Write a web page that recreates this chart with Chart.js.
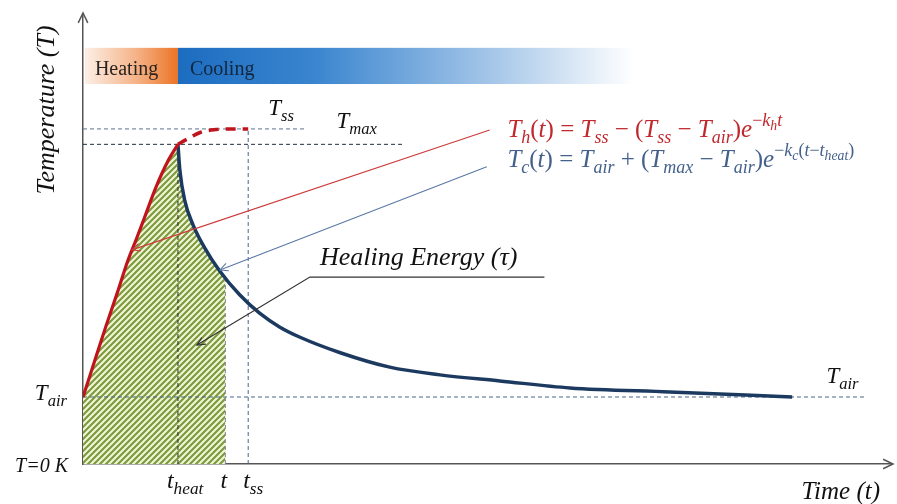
<!DOCTYPE html>
<html>
<head>
<meta charset="utf-8">
<title>Healing energy sketch</title>
<script src="https://cdn.jsdelivr.net/npm/chart.js@4.4.0/dist/chart.umd.min.js"></script>
<style>
  html, body { margin: 0; padding: 0; background: #fff; }
  #chart { display: block; }
</style>
</head>
<body>
<canvas id="chart" width="897" height="504"></canvas>
<script>
// values (arbitrary time / temperature units)
const T_AIR = 20, T_MAX = 95.4, T_SS = 100;
const tHeat = 10, tNow = 15, tSS = 17.4;
const hatchTop = 55.5; // temperature where the shaded area stops at t

// heating curve, up to t_heat
const heatTime = [0, 1.2, 2.4, 3.6, 4.7, 5.6, 6.5, 7.7, 9.0, 10];
const heatTemp = [20, 30.5, 41, 51, 60.5, 67, 73.7, 82.7, 90.7, 95.4];

// heating curve if it kept going (dashed), t_heat -> t_ss
const extTime = [10, 11, 12.4, 14, 15.5, 17.4];
const extTemp = [95.4, 97, 99, 99.8, 100, 100];

// cooling curve after t_heat
const coolTime = [10, 10.2, 10.7, 11.6, 12.8, 14.4, 16.5, 18.6, 20.7, 22.8, 27.1, 32.3, 37.6, 43.9, 51.3, 61.8, 74.7];
const coolTemp = [95.4, 87.8, 78.8, 71.3, 64.6, 57.6, 50.5, 45.0, 40.9, 37.9, 33.2, 28.9, 26.6, 24.8, 22.7, 21.5, 20.0];

// dashed guide lines: horizontal levels and how far they reach
const hLevels = [T_SS, T_MAX, T_AIR];
const hEnds = [23.4, 33.9, 82.5];
// vertical guides: time and the height they reach
const vTimes = [tHeat, tNow, tSS];
const vTops = [T_MAX, hatchTop, T_SS];

const pts = (xs, ys) => xs.map((x, i) => ({ x: x, y: ys[i] }));

// shaded area = heating curve + cooling curve until t
const hatchData = pts(heatTime, heatTemp)
  .concat(pts(coolTime, coolTemp).filter(p => p.x > tHeat && p.x < tNow))
  .concat([{ x: tNow, y: hatchTop }]);

function hatchPattern() {
  const c = document.createElement('canvas');
  c.width = c.height = 6;
  const g = c.getContext('2d');
  g.fillStyle = '#f1f5d6';
  g.fillRect(0, 0, 6, 6);
  g.strokeStyle = '#7b9a3d';
  g.lineWidth = 2.1;
  g.beginPath();
  for (const o of [-6, 0, 6]) { g.moveTo(o - 1, 7); g.lineTo(o + 7, -1); }
  g.stroke();
  return g.createPattern(c, 'repeat');
}

const SERIF = '"Liberation Serif", "Times New Roman", serif';

// text pieces: [text, level, upright]; level 0 base, 1 sub, 2 sup, 3 sub of sup
function drawRich(ctx, x, y, parts, size, color, align) {
  const sizes = [1, 0.72, 0.72, 0.55];
  const shifts = [0, 0.26, -0.42, -0.26];
  const fontFor = p => (p[2] ? '' : 'italic ') + (size * sizes[p[1]]).toFixed(1) + 'px ' + SERIF;
  let w = 0;
  parts.forEach(p => { ctx.font = fontFor(p); w += ctx.measureText(p[0]).width; });
  let cx = align === 'right' ? x - w : (align === 'center' ? x - w / 2 : x);
  ctx.fillStyle = color;
  ctx.textAlign = 'left';
  ctx.textBaseline = 'alphabetic';
  parts.forEach(p => {
    ctx.font = fontFor(p);
    ctx.fillText(p[0], cx, y + shifts[p[1]] * size);
    cx += ctx.measureText(p[0]).width;
  });
}

const redEq = [['T',0],['h',1],['(',0,1],['t',0],[')',0,1],[' = ',0,1],['T',0],['ss',1],[' − (',0,1],['T',0],['ss',1],
  [' − ',0,1],['T',0],['air',1],[')',0,1],['e',0],['−',2,1],['k',2],['h',3],['t',2]];
const blueEq = [['T',0],['c',1],['(',0,1],['t',0],[')',0,1],[' = ',0,1],['T',0],['air',1],[' + (',0,1],['T',0],['max',1],
  [' − ',0,1],['T',0],['air',1],[')',0,1],['e',0],['−',2,1],['k',2],['c',3],['(',2,1],['t',2],['−',2,1],['t',2],['heat',3],[')',2,1]];

// notes placed in data coordinates
const notes = [
  { x: 19.5, y: 104.2, size: 23, color: '#111', parts: [['T',0],['ss',1]] },
  { x: 26.7, y: 100.3, size: 23, color: '#111', parts: [['T',0],['max',1]] },
  { x: 78.3, y: 24.2, size: 23, color: '#111', parts: [['T',0],['air',1]] },
  { x: 24.95, y: 59.4, size: 26, color: '#111', parts: [['Healing Energy (τ)',0]] },
  { x: 44.7, y: 97.6, size: 25, color: '#c0282d', parts: redEq },
  { x: 44.7, y: 88.7, size: 25, color: '#44618c', parts: blueEq }
];

// leader lines, last point gets the arrow head
const leaders = [
  { color: '#cc3b3b', width: 1.1, pts: [[42.84, 99.7], [5.16, 63.9]] },
  { color: '#5a78a6', width: 1.1, pts: [[42.53, 88.7], [14.42, 57.9]] },
  { color: '#333333', width: 1.2, pts: [[48.6, 55.8], [23.9, 55.8], [12.0, 35.5]] }
];

function arrowHead(ctx, x0, y0, x1, y1, len) {
  const a = Math.atan2(y1 - y0, x1 - x0);
  ctx.beginPath();
  ctx.moveTo(x1 - len * Math.cos(a - 0.45), y1 - len * Math.sin(a - 0.45));
  ctx.lineTo(x1, y1);
  ctx.lineTo(x1 - len * Math.cos(a + 0.45), y1 - len * Math.sin(a + 0.45));
  ctx.stroke();
}

const sketchPlugin = {
  id: 'sketch',
  beforeDatasetsDraw(chart) {
    const ctx = chart.ctx, xs = chart.scales.x, ys = chart.scales.y;
    const y0 = ys.getPixelForValue(124.2), y1 = ys.getPixelForValue(113.4);
    const a = xs.getPixelForValue(0.2), b = xs.getPixelForValue(tHeat), c = xs.getPixelForValue(58);
    ctx.save();
    let g = ctx.createLinearGradient(a, 0, b, 0);
    g.addColorStop(0, '#fcefe6');
    g.addColorStop(0.55, '#f5b388');
    g.addColorStop(1, '#ec7425');
    ctx.fillStyle = g;
    ctx.fillRect(a, y0, b - a, y1 - y0);
    g = ctx.createLinearGradient(b, 0, c, 0);
    g.addColorStop(0, '#1c6cc0');
    g.addColorStop(0.3, '#3a85cf');
    g.addColorStop(0.7, '#a8c8e9');
    g.addColorStop(1, '#ffffff');
    ctx.fillStyle = g;
    ctx.fillRect(b, y0, c - b, y1 - y0);
    ctx.font = '20px ' + SERIF;
    ctx.textBaseline = 'alphabetic';
    ctx.fillStyle = '#2a2320';
    ctx.fillText('Heating', a + 10, y0 + 27);
    ctx.fillStyle = '#13253c';
    ctx.fillText('Cooling', b + 12, y0 + 27);
    ctx.restore();
  },
  afterDatasetsDraw(chart) {
    const ctx = chart.ctx, xs = chart.scales.x, ys = chart.scales.y, area = chart.chartArea;
    const px = v => xs.getPixelForValue(v), py = v => ys.getPixelForValue(v);
    ctx.save();
    // axis arrows
    ctx.strokeStyle = '#555';
    ctx.lineWidth = 1.5;
    ctx.beginPath();
    ctx.moveTo(area.left, area.top); ctx.lineTo(area.left, area.top - 2);
    ctx.moveTo(area.right, area.bottom); ctx.lineTo(area.right + 3, area.bottom);
    ctx.stroke();
    arrowHead(ctx, area.left, area.top + 20, area.left, area.top - 2, 11);
    arrowHead(ctx, area.right - 20, area.bottom, area.right + 3, area.bottom, 11);

    leaders.forEach(l => {
      ctx.strokeStyle = l.color;
      ctx.lineWidth = l.width;
      ctx.beginPath();
      l.pts.forEach((p, i) => i ? ctx.lineTo(px(p[0]), py(p[1])) : ctx.moveTo(px(p[0]), py(p[1])));
      ctx.stroke();
      const n = l.pts.length;
      arrowHead(ctx, px(l.pts[n - 2][0]), py(l.pts[n - 2][1]), px(l.pts[n - 1][0]), py(l.pts[n - 1][1]), 9);
    });

    notes.forEach(n => drawRich(ctx, px(n.x), py(n.y), n.parts, n.size, n.color, 'left'));

    // tick-like labels outside the plot
    drawRich(ctx, area.left - 16, py(T_AIR) + 3, [['T',0],['air',1]], 23, '#111', 'right');
    drawRich(ctx, area.left - 15, py(0) + 8, [['T=0 K',0]], 20, '#111', 'right');
    drawRich(ctx, px(tHeat) - 11, area.bottom + 24, [['t',0],['heat',1]], 24, '#111', 'left');
    drawRich(ctx, px(tNow) - 5, area.bottom + 24, [['t',0]], 24, '#111', 'left');
    drawRich(ctx, px(tSS) - 5, area.bottom + 24, [['t',0],['ss',1]], 24, '#111', 'left');
    drawRich(ctx, area.right - 10, area.bottom + 35, [['Time (t)',0]], 25, '#111', 'right');

    ctx.translate(area.left - 29, 110);
    ctx.rotate(-Math.PI / 2);
    drawRich(ctx, 0, 0, [['Temperature (T)',0]], 26, '#111', 'center');
    ctx.restore();
  }
};

const guideSets = [];
const hColors = ['#5a7391', '#1f2f45', '#4a6688'];
hLevels.forEach((v, i) => guideSets.push({
  label: 'level ' + i, data: [{ x: 0, y: v }, { x: hEnds[i], y: v }],
  borderColor: hColors[i], borderWidth: 1, borderDash: [4, 3]
}));
const vColors = ['#2b2b2b', '#8a8aa0', '#4a6688'];
vTimes.forEach((t, i) => guideSets.push({
  label: 'time ' + i, data: [{ x: t, y: 0 }, { x: t, y: vTops[i] }],
  borderColor: vColors[i], borderWidth: 1, borderDash: [4, 3]
}));

const ctx = document.getElementById('chart').getContext('2d');
new Chart(ctx, {
  type: 'scatter',
  data: {
    datasets: [
      { label: 'Heating', data: pts(heatTime, heatTemp), borderColor: '#c0141c', borderWidth: 3.2, cubicInterpolationMode: 'monotone' },
      { label: 'Heating (continued)', data: pts(extTime, extTemp), borderColor: '#c0141c', borderWidth: 3.5, borderDash: [10, 7], cubicInterpolationMode: 'monotone' },
      { label: 'Cooling', data: pts(coolTime, coolTemp), borderColor: '#1c3a60', borderWidth: 3.5, cubicInterpolationMode: 'monotone' }
    ].concat(guideSets).concat([
      { label: 'Healing energy', data: hatchData, fill: 'origin', backgroundColor: hatchPattern(), borderWidth: 0, cubicInterpolationMode: 'monotone' }
    ]).map(d => Object.assign({ showLine: true, pointRadius: 0 }, d))
  },
  options: {
    responsive: false,
    animation: false,
    events: [],
    layout: { padding: { top: 15, right: 7, left: 0, bottom: 0 } },
    plugins: { legend: { display: false }, tooltip: { enabled: false } },
    scales: {
      x: {
        type: 'linear', min: 0, max: 85,
        ticks: { display: false }, grid: { display: false },
        border: { display: true, color: '#555', width: 1.5 },
        afterFit: s => { s.height = 40; }
      },
      y: {
        type: 'linear', min: 0, max: 134,
        ticks: { display: false }, grid: { display: false },
        border: { display: true, color: '#555', width: 1.5 },
        afterFit: s => { s.width = 83; }
      }
    }
  },
  plugins: [sketchPlugin]
});
</script>
</body>
</html>
